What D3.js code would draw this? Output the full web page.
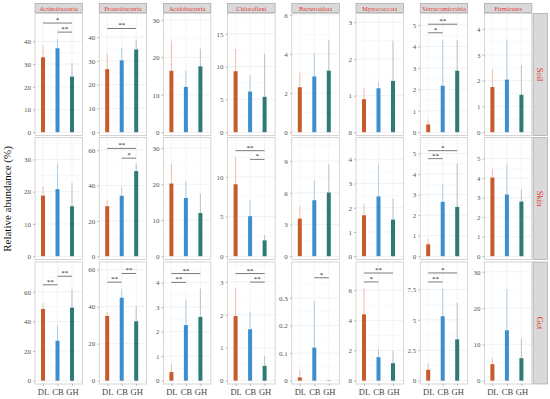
<!DOCTYPE html>
<html>
<head>
<meta charset="utf-8">
<script src="https://cdn.jsdelivr.net/npm/d3@7"></script>
<style>
  body { margin: 0; background: #fff; }
  svg { display: block; font-family: "Liberation Serif", "DejaVu Serif", serif; }
</style>
</head>
<body>
<div id="chart"></div>
<script>
const phyla = ["Actinobacteria", "Proteobacteria", "Acidobacteria", "Chloroflexi",
  "Bacteroidota", "Myxococcota", "Verrucomicrobia", "Firmicutes"];
const habitats = ["Soil", "Skin", "Gut"];
const groups = ["DL", "CB", "GH"];

// mean relative abundance, one [DL, CB, GH] per phylum
const soilMean = [[33, 37, 24.5], [26.5, 30.2, 34.8], [16.4, 12.1, 17.6], [9.3, 6.2, 5.4],
  [2.3, 2.85, 3.15], [0.9, 1.2, 1.4], [0.36, 2.17, 2.87], [1.75, 2.04, 1.45]];
const skinMean = [[18.8, 20.8, 15.5], [28.3, 34.2, 48.2], [20.2, 16.2, 12], [9.07, 5.04, 2.0],
  [3.56, 5.3, 6.03], [1.69, 2.47, 1.51], [0.58, 2.65, 2.4], [4.03, 3.16, 2.8]];
const gutMean = [[48.4, 27, 49.3], [35, 44.8, 32.1], [0.35, 2.27, 2.6], [1.96, 1.56, 0.45],
  [0.012, 0.12, 0.001], [4.4, 1.56, 1.16], [0.9, 5.3, 3.4], [4.55, 13.9, 6.2]];

// upper end of error bars
const soilErr = [[38, 41, 30.5], [33, 35.5, 39], [24.4, 16.4, 22.3], [12.7, 8.7, 12],
  [3.05, 4.05, 4.7], [1.2, 1.38, 2.5], [0.6, 4.3, 4.3], [2.45, 3.6, 2.6]];
const skinErr = [[21.7, 28.7, 22.7], [31.7, 39, 52.5], [25.7, 20.9, 17.4], [12.5, 7.1, 2.65],
  [4.73, 7.2, 8.68], [2.17, 3.78, 2.38], [0.86, 3.54, 4.51], [4.44, 4.74, 3.41]];
const gutErr = [[52.4, 37.5, 61.6], [37.1, 49.3, 40.2], [0.68, 3.28, 3.76], [2.8, 2.09, 0.74],
  [0.04, 0.29, 0.002], [6.1, 2.1, 1.98], [1.44, 7.57, 6.43], [6.2, 25.3, 11.6]];

// y axis upper limits and tick values
const soilMax = [52.3, 49.9, 31.7, 18.1, 6.07, 3.24, 5.54, 4.6];
const skinMax = [36.8, 67.2, 33, 14.96, 11.24, 4.9, 5.78, 6.08];
const gutMax = [80.1, 64.1, 4.84, 3.6, 0.43, 7.87, 9.76, 32.7];

const soilTicks = [[0, 10, 20, 30, 40], [0, 10, 20, 30, 40], [0, 10, 20, 30], [0, 5, 10, 15],
  [0, 2, 4, 6], [0, 1, 2, 3], [0, 1, 2, 3, 4, 5], [0, 1, 2, 3, 4]];
const skinTicks = [[0, 10, 20, 30], [0, 20, 40, 60], [0, 10, 20, 30], [0, 5, 10],
  [0, 3, 6, 9], [0, 1, 2, 3, 4], [0, 1, 2, 3, 4, 5], [0, 1, 2, 3, 4, 5]];
const gutTicks = [[0, 20, 40, 60], [0, 20, 40, 60], [0, 1, 2, 3, 4], [0, 1, 2, 3],
  [0, 0.1, 0.2, 0.3], [0, 2, 4, 6], [0, 2.5, 5, 7.5], [0, 10, 20, 30]];

// significance brackets: [phylum index, from group, to group, label, height]
const soilSig = [[0, 0, 2, "*", 48.1], [0, 1, 2, "**", 44.1], [1, 0, 2, "**", 43.6],
  [6, 0, 2, "**", 5.04], [6, 0, 1, "*", 4.64]];
const skinSig = [[1, 0, 2, "**", 61], [1, 1, 2, "*", 55.5], [3, 0, 2, "**", 13.3],
  [3, 1, 2, "*", 12.2], [6, 0, 2, "*", 5.14], [6, 0, 1, "**", 4.75]];
const gutSig = [[0, 1, 2, "**", 70.5], [0, 0, 1, "**", 64.7], [1, 1, 2, "**", 57.9],
  [1, 0, 1, "**", 53.2], [2, 0, 2, "**", 4.37], [2, 0, 1, "**", 4.01],
  [3, 0, 2, "**", 3.25], [3, 1, 2, "**", 2.99], [4, 1, 2, "*", 0.373],
  [5, 0, 2, "**", 7.14], [5, 0, 1, "*", 6.55], [6, 0, 2, "*", 8.86], [6, 0, 1, "**", 8.12]];

const rowMeans = [soilMean, skinMean, gutMean];
const rowErrs = [soilErr, skinErr, gutErr];
const rowMax = [soilMax, skinMax, gutMax];
const rowTicks = [soilTicks, skinTicks, gutTicks];
const rowSig = [soilSig, skinSig, gutSig];

const barColors = ["#c95a2c", "#3b8fcf", "#2f7a74"];
const errColors = ["#ecc0ae", "#abcfe8", "#afc6c5"];

const width = 550, height = 399;
const panelLeft = 35, panelStep = 64.2, panelW = 47.5;
const rowTop = [13.5, 137.5, 262], panelH = 122;

const svg = d3.select("#chart").append("svg")
  .attr("width", width).attr("height", height);

// y title
svg.append("text")
  .attr("transform", `translate(11,${199}) rotate(-90)`)
  .attr("text-anchor", "middle")
  .attr("font-size", 11)
  .attr("fill", "#111")
  .text("Relative abundance (%)");

// column strips
phyla.forEach((p, c) => {
  const x0 = panelLeft + c * panelStep;
  svg.append("rect")
    .attr("x", x0).attr("y", 3.5).attr("width", panelW).attr("height", 9)
    .attr("fill", "#d9d9d9").attr("stroke", "#9a9a9a").attr("stroke-width", 0.6);
  svg.append("text")
    .attr("x", x0 + panelW / 2).attr("y", 10.5)
    .attr("text-anchor", "middle").attr("font-size", 6.5)
    .attr("fill", "#e03a30")
    .text(p);
});

habitats.forEach((h, r) => {
  const top = rowTop[r];
  const bottom = top + panelH;

  // row strip on the right
  svg.append("rect")
    .attr("x", 533).attr("y", top).attr("width", 14.5).attr("height", panelH)
    .attr("fill", "#d9d9d9").attr("stroke", "#9a9a9a").attr("stroke-width", 0.6);
  svg.append("text")
    .attr("transform", `translate(537,${top + panelH / 2}) rotate(90)`)
    .attr("text-anchor", "middle").attr("font-size", 8.5)
    .attr("fill", "#e03a30")
    .text(h);

  phyla.forEach((p, c) => {
    const x0 = panelLeft + c * panelStep;
    const y = d3.scaleLinear().domain([0, rowMax[r][c]]).range([bottom - 3.3, top]);
    const x = d3.scalePoint().domain(groups).range([x0 + 8, x0 + panelW - 10.5]);
    const ticks = rowTicks[r][c];
    const g = svg.append("g");

    // panel background and grid
    g.append("rect")
      .attr("x", x0).attr("y", top).attr("width", panelW).attr("height", panelH)
      .attr("fill", "#fff");
    const step = ticks[1] - ticks[0];
    const minor = d3.range(ticks[0] + step / 2, rowMax[r][c], step);
    g.selectAll(".minor").data(minor).enter().append("line")
      .attr("x1", x0).attr("x2", x0 + panelW)
      .attr("y1", (d) => y(d)).attr("y2", (d) => y(d))
      .attr("stroke", "#f3f3f3").attr("stroke-width", 0.5);
    g.selectAll(".major").data(ticks).enter().append("line")
      .attr("x1", x0).attr("x2", x0 + panelW)
      .attr("y1", (d) => y(d)).attr("y2", (d) => y(d))
      .attr("stroke", "#e8e8e8").attr("stroke-width", 0.6);
    g.selectAll(".vgrid").data(groups).enter().append("line")
      .attr("x1", (d) => x(d)).attr("x2", (d) => x(d))
      .attr("y1", top).attr("y2", bottom)
      .attr("stroke", "#ececec").attr("stroke-width", 0.6);

    // error bars (upper only)
    g.selectAll(".err").data(groups).enter().append("line")
      .attr("x1", (d) => x(d)).attr("x2", (d) => x(d))
      .attr("y1", (d, i) => y(rowMeans[r][c][i]))
      .attr("y2", (d, i) => y(rowErrs[r][c][i]))
      .attr("stroke", (d, i) => errColors[i]).attr("stroke-width", 1);

    // bars
    g.selectAll(".bar").data(groups).enter().append("rect")
      .attr("x", (d) => x(d) - 2)
      .attr("width", 4)
      .attr("y", (d, i) => y(rowMeans[r][c][i]))
      .attr("height", (d, i) => y(0) - y(rowMeans[r][c][i]))
      .attr("fill", (d, i) => barColors[i]);

    // significance brackets
    rowSig[r].filter((s) => s[0] === c).forEach((s) => {
      const xa = x(groups[s[1]]), xb = x(groups[s[2]]);
      g.append("line")
        .attr("x1", xa).attr("x2", xb)
        .attr("y1", y(s[4])).attr("y2", y(s[4]))
        .attr("stroke", "#444").attr("stroke-width", 0.7);
      g.append("text")
        .attr("x", (xa + xb) / 2).attr("y", y(s[4]) - 1)
        .attr("text-anchor", "middle").attr("font-size", 7)
        .attr("fill", "#222")
        .text(s[3]);
    });

    // panel border
    g.append("rect")
      .attr("x", x0).attr("y", top).attr("width", panelW).attr("height", panelH)
      .attr("fill", "none").attr("stroke", "#c4c4c4").attr("stroke-width", 0.7);

    // y axis
    const yAxis = d3.axisLeft(y).tickValues(ticks).tickSize(2).tickPadding(2)
      .tickFormat(d3.format(""));
    const ax = g.append("g").attr("transform", `translate(${x0},0)`).call(yAxis);
    ax.select(".domain").remove();
    ax.selectAll("line").attr("stroke", "#bbb");
    ax.selectAll("text").attr("font-size", 7).attr("fill", "#555")
      .attr("font-family", "Liberation Serif, serif");

    // x labels on bottom row
    if (r === habitats.length - 1) {
      const xAxis = d3.axisBottom(x).tickSize(2).tickPadding(3);
      const bx = g.append("g").attr("transform", `translate(0,${bottom})`).call(xAxis);
      bx.select(".domain").remove();
      bx.selectAll("line").attr("stroke", "#bbb");
      bx.selectAll("text").attr("font-size", 8.5).attr("fill", "#444")
        .attr("font-family", "Liberation Serif, serif");
    }
  });
});
</script>
</body>
</html>
